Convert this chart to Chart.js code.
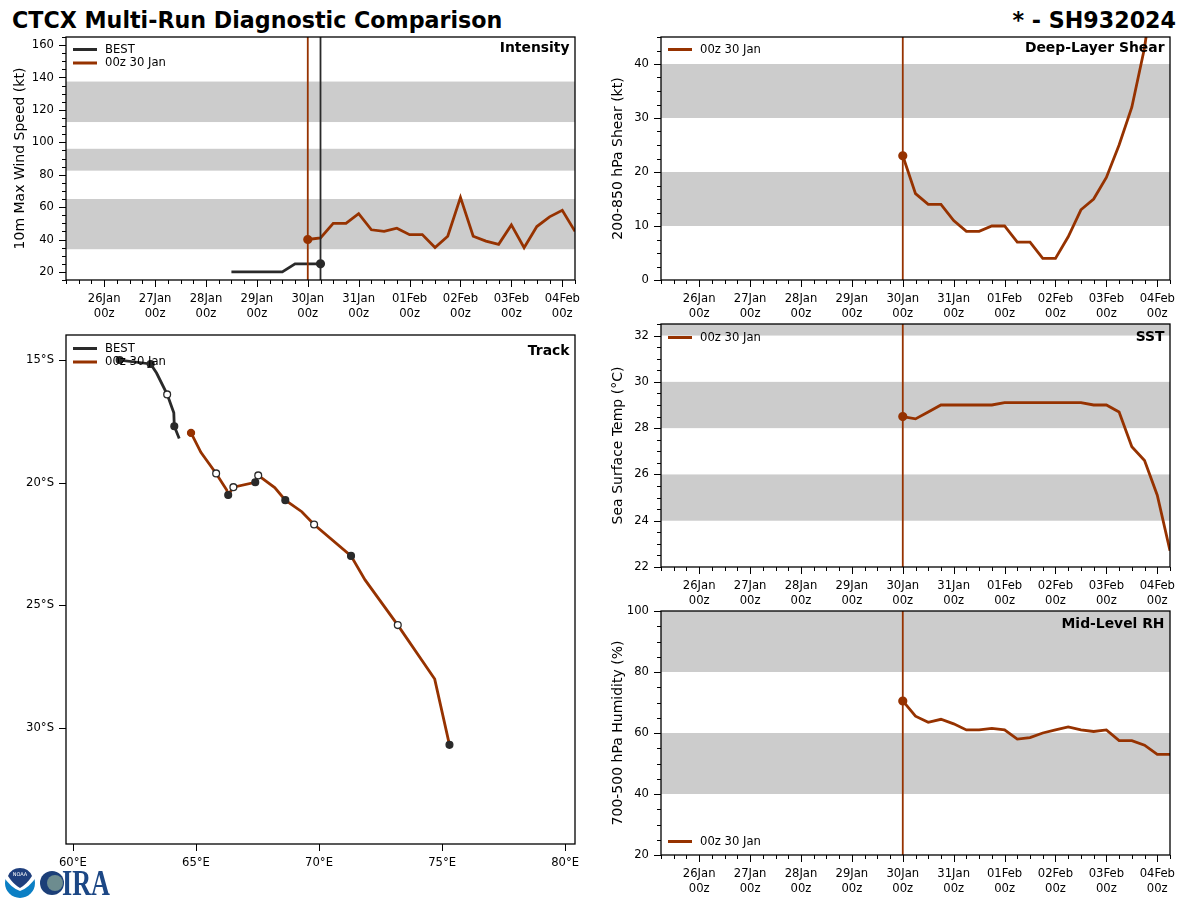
<!DOCTYPE html>
<html>
<head>
<meta charset="utf-8">
<title>CTCX Multi-Run Diagnostic Comparison</title>
<script src="https://cdn.jsdelivr.net/npm/chart.js@4"></script>
<style>
    html, body { margin: 0; padding: 0; background: #fff; }
    body { position: relative; width: 1200px; height: 900px; overflow: hidden; font-family: "DejaVu Sans", sans-serif; }
    canvas { position: absolute; }
    .head { position: absolute; top: 7px; font-size: 22.2px; font-weight: bold; color: #000; white-space: nowrap; }
    #logo { position: absolute; left: 0; top: 862px; }
</style>
</head>
<body>
<div class="head" style="left:12px">CTCX Multi-Run Diagnostic Comparison</div>
<div class="head" style="right:24px">* - SH932024</div>

<canvas id="intensityChart"></canvas>
<canvas id="trackChart"></canvas>
<canvas id="shearChart"></canvas>
<canvas id="sstChart"></canvas>
<canvas id="rhChart"></canvas>

<svg id="logo" width="115" height="38" viewBox="0 0 115 38">
    <circle cx="20" cy="21" r="15" fill="#0b7fc4"/>
    <path d="M3 4 H37 V14 Q29 26 20 29 Q11 26 3 14 Z" fill="#fff"/>
    <path d="M8 14 A13 13 0 0 1 32 14 Q27 22 20 26 Q13 22 8 14 Z" fill="#1f3f7d"/>
    <text x="20" y="14" text-anchor="middle" font-family="DejaVu Sans" font-size="5" fill="#fff">NOAA</text>
    <circle cx="52" cy="21" r="12" fill="#1c3f78"/>
    <circle cx="55" cy="21" r="8" fill="#6d8c8f"/>
    <text x="62" y="33" font-family="Liberation Serif" font-weight="bold" font-size="36" fill="#1c4785" textLength="48" lengthAdjust="spacingAndGlyphs">IRA</text>
</svg>

<script>
// hours since 26 Jan 00z
const dayHours = [0, 24, 48, 72, 96, 120, 144, 168, 192, 216];
const dayLabels = ["26Jan", "27Jan", "28Jan", "29Jan", "30Jan", "31Jan", "01Feb", "02Feb", "03Feb", "04Feb"];
const runHours = [96, 102, 108, 114, 120, 126, 132, 138, 144, 150, 156, 162, 168, 174, 180, 186, 192, 198, 204, 210, 216, 222];

const bestHours = [60, 66, 72, 78, 84, 90, 96, 102];
const bestWind = [20, 20, 20, 20, 20, 25, 25, 25];

const runWind = [40, 41, 50, 50, 56, 46, 45, 47, 43, 43, 35, 42, 66, 42, 39, 37, 49, 35, 48, 54, 58, 45];
const runShear = [23, 16, 14, 14, 11, 9, 9, 10, 10, 7, 7, 4, 4, 8, 13, 15, 19, 25, 32, 43, 60, 75];
const runSst = [28.5, 28.4, 28.7, 29, 29, 29, 29, 29, 29.1, 29.1, 29.1, 29.1, 29.1, 29.1, 29.1, 29, 29, 28.7, 27.2, 26.6, 25.1, 22.7];
const runRh = [70.5, 65.5, 63.5, 64.5, 63, 61, 61, 61.5, 61, 58, 58.5, 60, 61, 62, 61, 60.5, 61, 57.5, 57.5, 56, 53, 53];

const bestLon = [61.9, 63.16, 63.4, 63.83, 64.1, 64.12, 64.32];
const bestLat = [15, 15.16, 15.53, 16.4, 17.15, 17.7, 18.2];
const bestFilled = [0, 1, 5];
const bestHollow = [3];

const runLon = [64.8, 65.2, 65.82, 66.25, 66.31, 66.52, 67.41, 67.53, 68.2, 68.63, 69.3, 69.8, 71.3, 71.87, 73.2, 74.7, 75.3];
const runLat = [17.97, 18.76, 19.62, 20.3, 20.5, 20.18, 19.98, 19.7, 20.2, 20.71, 21.18, 21.7, 22.98, 23.96, 25.8, 28, 30.68];
const runFilled = [4, 6, 9, 12, 16];
const runHollow = [2, 5, 7, 11, 14];

const lonTicks = [60, 65, 70, 75, 80];
const latTicks = [15, 20, 25, 30];

const windBands = [[34, 65], [82.5, 96], [112.5, 137.5]];
const shearBands = [[10, 20], [30, 40]];
const sstBands = [[24, 26], [28, 30], [32, 33]];
const rhBands = [[40, 60], [80, 100]];

const BROWN = "#963200";
const DARK = "#2a2a2a";
const FONT = "'DejaVu Sans', sans-serif";
const TICK_FONT = { family: FONT, size: 11.6, lineHeight: 1.3 };

const zip = (xs, ys) => xs.map((x, i) => ({ x: x, y: ys[i] }));

// grey bands, frame, tick marks, legend and panel name
const panelPlugin = {
    id: "panel",
    beforeDatasetsDraw(chart, args, opts) {
        const { ctx, chartArea: a, scales } = chart;
        ctx.save();
        ctx.fillStyle = "#cccccc";
        (opts.bands || []).forEach((b) => {
            const y1 = Math.max(scales.y.getPixelForValue(b[1]), a.top);
            const y0 = scales.y.getPixelForValue(b[0]);
            ctx.fillRect(a.left, y1, a.right - a.left, y0 - y1);
        });
        ctx.restore();
    },
    afterDraw(chart, args, opts) {
        const { ctx, chartArea: a, scales } = chart;
        ctx.save();
        ctx.strokeStyle = "#000";
        ctx.lineWidth = 1;
        ctx.beginPath();
        scales.x.ticks.forEach((t) => {
            const p = Math.round(scales.x.getPixelForValue(t.value)) + 0.5;
            ctx.moveTo(p, a.bottom);
            ctx.lineTo(p, a.bottom + (t.label && t.label.length ? 7 : 4));
        });
        scales.y.ticks.forEach((t) => {
            const p = Math.round(scales.y.getPixelForValue(t.value)) + 0.5;
            ctx.moveTo(a.left, p);
            ctx.lineTo(a.left - (t.label && t.label.length ? 7 : 4), p);
        });
        ctx.stroke();
        ctx.lineWidth = 1.3;
        ctx.strokeRect(a.left, a.top, a.right - a.left, a.bottom - a.top);

        ctx.textBaseline = "middle";
        ctx.font = "11.6px " + FONT;
        (opts.legend || []).forEach((item, i) => {
            const y = a.top + opts.legendTop + i * 13.5;
            ctx.strokeStyle = item.color;
            ctx.lineWidth = 3;
            ctx.beginPath();
            ctx.moveTo(a.left + 7, y);
            ctx.lineTo(a.left + 31, y);
            ctx.stroke();
            ctx.fillStyle = "#000";
            ctx.fillText(item.label, a.left + 39, y);
        });

        ctx.font = "bold 13.9px " + FONT;
        ctx.textAlign = "right";
        ctx.fillStyle = "#000";
        ctx.fillText(opts.name, a.right - 5.5, a.top + opts.nameTop);
        ctx.restore();
    }
};

const lineSet = (label, data, color, extra) => Object.assign({
    label: label,
    data: data,
    showLine: true,
    borderColor: color,
    backgroundColor: color,
    borderWidth: 2.8,
    pointRadius: 0,
    tension: 0
}, extra);

const forecastX = {
    type: "linear",
    min: -18,
    max: 222,
    grid: { display: false, drawTicks: false },
    border: { display: false },
    ticks: {
        stepSize: 6,
        autoSkip: false,
        maxRotation: 0,
        minRotation: 0,
        includeBounds: false,
        padding: 11,
        color: "#000",
        font: TICK_FONT,
        callback: (v) => {
            const i = dayHours.indexOf(v);
            return i < 0 ? "" : [dayLabels[i], "00z"];
        }
    },
    afterFit: (s) => { s.height = 44; s.paddingLeft = 0; s.paddingRight = 0; }
};

function makeChart(id, left, top, height, datasets, xScale, yScale, panel) {
    const canvas = document.getElementById(id);
    const w = 509 + 66 + 16;
    const h = height + 8 + 44;
    canvas.width = w;
    canvas.height = h;
    canvas.style.left = (left - 66) + "px";
    canvas.style.top = (top - 8) + "px";
    canvas.style.width = w + "px";
    canvas.style.height = h + "px";
    return new Chart(canvas, {
        type: "scatter",
        data: { datasets: datasets },
        options: {
            responsive: false,
            animation: false,
            layout: { padding: { top: 8, right: 16, left: 0, bottom: 0 } },
            plugins: { legend: { display: false }, tooltip: { enabled: false }, panel: panel },
            scales: { x: xScale, y: yScale }
        },
        plugins: [panelPlugin]
    });
}

const valueY = (min, max, step, majors, title, titlePad) => ({
    type: "linear",
    min: min,
    max: max,
    grid: { display: false, drawTicks: false },
    border: { display: false },
    title: { display: true, text: title, color: "#000", font: { family: FONT, size: 14 }, padding: { top: titlePad, bottom: 0 } },
    ticks: {
        stepSize: step,
        autoSkip: false,
        includeBounds: false,
        padding: 12,
        color: "#000",
        font: TICK_FONT,
        callback: (v) => (majors.includes(v) ? String(v) : "")
    },
    afterFit: (s) => { s.width = 66; s.paddingTop = 0; s.paddingBottom = 0; }
});

const firstDot = { pointRadius: (c) => (c.dataIndex === 0 ? 3.2 : 0) };
const lastDot = { pointRadius: (c) => (c.dataIndex === bestHours.length - 1 ? 3.2 : 0) };
const bestLegend = { label: "BEST", color: DARK };
const runLegend = { label: "00z 30 Jan", color: BROWN };

// vertical marker for a run's start time
const vLine = (hour, lo, hi, color) => lineSet("start", [{ x: hour, y: lo }, { x: hour, y: hi }], color, { borderWidth: 1.8 });

makeChart("intensityChart", 66, 37, 243, [
    vLine(96, 15, 165, BROWN),
    vLine(102, 15, 165, DARK),
    lineSet("BEST", zip(bestHours, bestWind), DARK, lastDot),
    lineSet("00z 30 Jan", zip(runHours, runWind), BROWN, firstDot)
], forecastX, valueY(15, 165, 5, [20, 40, 60, 80, 100, 120, 140, 160], "10m Max Wind Speed (kt)", 12), {
    bands: windBands, legend: [bestLegend, runLegend], legendTop: 12.5, name: "Intensity", nameTop: 11.5
});

makeChart("shearChart", 661, 37, 243, [
    vLine(96, 0, 45, BROWN),
    lineSet("00z 30 Jan", zip(runHours, runShear), BROWN, firstDot)
], forecastX, valueY(0, 45, 2.5, [0, 10, 20, 30, 40], "200-850 hPa Shear (kt)", 15), {
    bands: shearBands, legend: [runLegend], legendTop: 12.5, name: "Deep-Layer Shear", nameTop: 11.5
});

makeChart("sstChart", 661, 324, 243, [
    vLine(96, 22, 32.5, BROWN),
    lineSet("00z 30 Jan", zip(runHours, runSst), BROWN, firstDot)
], forecastX, valueY(22, 32.5, 0.5, [22, 24, 26, 28, 30, 32], "Sea Surface Temp (°C)", 15), {
    bands: sstBands, legend: [runLegend], legendTop: 13.5, name: "SST", nameTop: 13
});

makeChart("rhChart", 661, 611, 244, [
    vLine(96, 20, 100, BROWN),
    lineSet("00z 30 Jan", zip(runHours, runRh), BROWN, firstDot)
], forecastX, valueY(20, 100, 5, [20, 40, 60, 80, 100], "700-500 hPa Humidity (%)", 15), {
    bands: rhBands, legend: [runLegend], legendTop: 230.5, name: "Mid-Level RH", nameTop: 13
});

// filled or hollow dots at the synoptic fixes on the track
const trackMarks = (filled, hollow, first) => ({
    pointRadius: (c) => {
        if (c.dataIndex === first) return 3.5;
        if (filled.includes(c.dataIndex)) return 3.4;
        return hollow.includes(c.dataIndex) ? 3.4 : 0;
    },
    pointBackgroundColor: (c) => {
        if (c.dataIndex === first) return BROWN;
        return hollow.includes(c.dataIndex) ? "#fff" : DARK;
    },
    pointBorderColor: (c) => (c.dataIndex === first ? BROWN : DARK),
    pointBorderWidth: 1.3
});

const lonX = {
    type: "linear",
    min: 59.72,
    max: 80.4,
    grid: { display: false, drawTicks: false },
    border: { display: false },
    afterBuildTicks: (s) => { s.ticks = lonTicks.map((v) => ({ value: v })); },
    ticks: {
        autoSkip: false,
        maxRotation: 0,
        minRotation: 0,
        padding: 11,
        color: "#000",
        font: TICK_FONT,
        callback: (v) => v + "°E"
    },
    afterFit: (s) => { s.height = 44; s.paddingLeft = 0; s.paddingRight = 0; }
};

const latY = {
    type: "linear",
    reverse: true,
    min: 13.98,
    max: 34.72,
    grid: { display: false, drawTicks: false },
    border: { display: false },
    afterBuildTicks: (s) => { s.ticks = latTicks.map((v) => ({ value: v })); },
    ticks: {
        autoSkip: false,
        padding: 12,
        color: "#000",
        font: TICK_FONT,
        callback: (v) => v + "°S"
    },
    afterFit: (s) => { s.width = 66; s.paddingTop = 0; s.paddingBottom = 0; }
};

makeChart("trackChart", 66, 335, 509, [
    lineSet("BEST", zip(bestLon, bestLat), DARK, trackMarks(bestFilled, bestHollow, -1)),
    lineSet("00z 30 Jan", zip(runLon, runLat), BROWN, trackMarks(runFilled, runHollow, 0))
], lonX, latY, {
    bands: [], legend: [bestLegend, runLegend], legendTop: 13.5, name: "Track", nameTop: 16
});
</script>
</body>
</html>
